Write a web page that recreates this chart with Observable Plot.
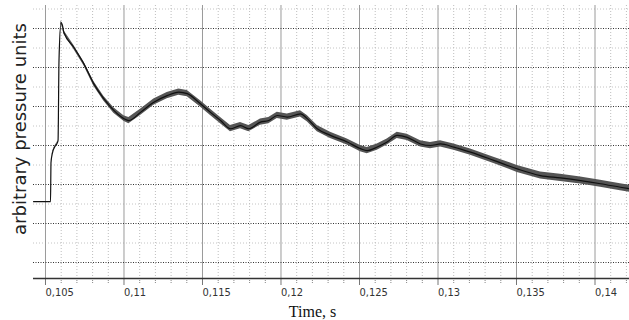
<!DOCTYPE html>
<html><head><meta charset="utf-8">
<script src="https://cdn.jsdelivr.net/npm/d3@7"></script>
<script src="https://cdn.jsdelivr.net/npm/@observablehq/plot@0.6"></script>
<style>body{margin:0;background:#fff}</style>
</head><body><div id="chart"></div>
<script>
// Time (s) of trace points
const time = [0.10424, 0.10532, 0.10535, 0.10545, 0.10557, 0.10573, 0.10580, 0.10586, 0.10599, 0.10608,
  0.10617, 0.10680, 0.10744, 0.10808, 0.10871, 0.10935, 0.10999, 0.11031, 0.11105, 0.11190,
  0.11275, 0.11349, 0.11403, 0.11487, 0.11551, 0.11615, 0.11678, 0.11742, 0.11795, 0.11869,
  0.11922, 0.11976, 0.12040, 0.12124, 0.12167, 0.12231, 0.12315, 0.12422, 0.12506, 0.12549,
  0.12613, 0.12676, 0.12740, 0.12804, 0.12889, 0.12952, 0.13016, 0.13101, 0.13207, 0.13355,
  0.13505, 0.13653, 0.13780, 0.13908, 0.14035, 0.14162, 0.14220];
// Pressure (arbitrary units, one unit = one dark grid line)
const pressure = [1.56, 1.56, 2.56, 2.82, 2.95, 3.05, 3.13, 5.18, 6.15, 6.08,
  5.90, 5.52, 5.10, 4.58, 4.20, 3.90, 3.69, 3.64, 3.85, 4.11,
  4.28, 4.37, 4.33, 4.07, 3.85, 3.64, 3.43, 3.51, 3.43, 3.60,
  3.64, 3.77, 3.73, 3.81, 3.69, 3.43, 3.26, 3.09, 2.92, 2.87,
  2.96, 3.09, 3.26, 3.21, 3.04, 3.00, 3.04, 2.96, 2.83, 2.62,
  2.40, 2.23, 2.17, 2.10, 2.02, 1.93, 1.89];
// Half-width of the noisy band around the trace (estimated)
const noise = [0, 0, 0, 0.02, 0.02, 0.02, 0, 0, 0.04, 0.05,
  0.05, 0.05, 0.05, 0.06, 0.06, 0.07, 0.07, 0.08, 0.08, 0.08,
  0.08, 0.08, 0.08, 0.08, 0.08, 0.08, 0.08, 0.08, 0.08, 0.08,
  0.08, 0.08, 0.08, 0.08, 0.08, 0.08, 0.08, 0.08, 0.08, 0.08,
  0.08, 0.08, 0.08, 0.08, 0.08, 0.08, 0.08, 0.08, 0.08, 0.08,
  0.09, 0.09, 0.09, 0.09, 0.09, 0.09, 0.09];

const majorTicks = [0.105, 0.11, 0.115, 0.12, 0.125, 0.13, 0.135, 0.14];
const tickLabels = ["0,105", "0,11", "0,115", "0,12", "0,125", "0,13", "0,135", "0,14"];
const minorTicks = [0.106, 0.107, 0.108, 0.109, 0.111, 0.112, 0.113, 0.114, 0.116, 0.117, 0.118, 0.119,
  0.121, 0.122, 0.123, 0.124, 0.126, 0.127, 0.128, 0.129, 0.131, 0.132, 0.133, 0.134,
  0.136, 0.137, 0.138, 0.139, 0.141, 0.142];
const majorLevels = [0, 1, 2, 3, 4, 5, 6];
const minorLevels = [0.5, 1.5, 2.5, 3.5, 4.5, 5.5, 6.5];
const xDomain = [0.104236, 0.142197];
const yDomain = [-0.41, 6.59];
const xLabel = "Time, s";
const yLabel = "arbitrary pressure units";

const data = time.map((t, i) => ({t, p: pressure[i], lo: pressure[i] - noise[i], hi: pressure[i] + noise[i]}));
const tickFont = "'Liberation Sans Narrow', 'DejaVu Sans Condensed', 'Arial Narrow', sans-serif";

const chart = Plot.plot({
  width: 629, height: 320,
  marginLeft: 33, marginRight: 0, marginTop: 5, marginBottom: 42,
  x: {domain: xDomain, label: null},
  y: {domain: yDomain, axis: null},
  style: {background: "#fff", fontFamily: tickFont},
  marks: [
    Plot.ruleY(minorLevels, {stroke: "#c4c4c4", strokeDasharray: "1,2"}),
    Plot.ruleX(minorTicks, {stroke: "#bdbdbd", strokeDasharray: "1,2"}),
    Plot.ruleX(majorTicks, {stroke: "#9a9a9a"}),
    Plot.ruleY(majorLevels, {stroke: "#333", strokeDasharray: "1,1.5"}),
    Plot.areaY(data, {x: "t", y1: "lo", y2: "hi", fill: "#555", curve: "linear"}),
    Plot.lineY(data, {x: "t", y: "p", stroke: "#111", strokeWidth: 1.2, curve: "monotone-x"}),
    Plot.axisX(minorTicks, {tickSize: 5, stroke: "#888", strokeDasharray: "1,1", tickFormat: () => "", label: null}),
    Plot.axisX(majorTicks, {tickSize: 7, tickPadding: 3, textAnchor: "start", label: null,
      tickFormat: d => tickLabels[majorTicks.indexOf(d)],
      fontSize: 11, fontFamily: tickFont, fill: "#333", stroke: "#777"}),
    Plot.ruleY([yDomain[0]], {stroke: "#333", strokeWidth: 1.5}),
    Plot.text([yLabel], {frameAnchor: "left", textAnchor: "middle", rotate: -90, dx: -8, dy: -13, lineAnchor: "bottom",
      fontSize: 18, fontFamily: "'DejaVu Sans', sans-serif", fill: "#222"}),
    Plot.text([xLabel], {frameAnchor: "bottom", textAnchor: "middle", dx: -19, dy: 38, lineAnchor: "bottom",
      fontSize: 16, fontFamily: "'Liberation Serif', serif", fill: "#111"})
  ]
});
document.getElementById("chart").appendChild(chart);
</script>
</body></html>
